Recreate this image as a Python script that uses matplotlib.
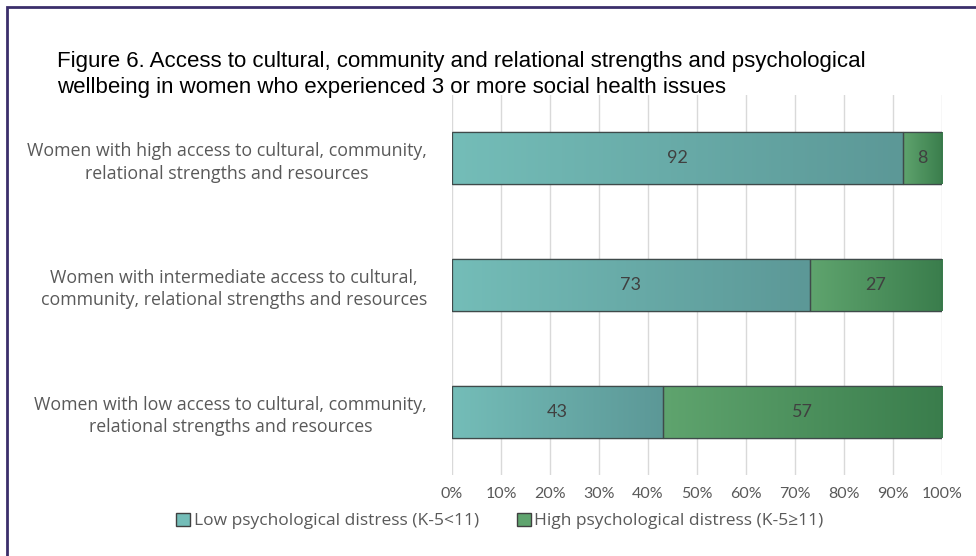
import numpy as np
import matplotlib.pyplot as plt
from matplotlib.patches import Rectangle
from matplotlib.colors import LinearSegmentedColormap

# Daten
groups = [
    "Women with high access to cultural, community,\nrelational strengths and resources",
    "Women with intermediate access to cultural,\ncommunity, relational strengths and resources",
    "Women with low access to cultural, community,\nrelational strengths and resources",
]
low_distress = [92, 73, 43]
high_distress = [8, 27, 57]
series_names = ["Low psychological distress (K-5<11)", "High psychological distress (K-5\u226511)"]
xticks = np.arange(0, 101, 10)

title = ("Figure 6. Access to cultural, community and relational strengths and psychological\n"
         "wellbeing in women who experienced 3 or more social health issues")

teal = ["#74BDB8", "#5C9897"]
green = ["#5FA46E", "#3A7D4C"]

fig = plt.figure(figsize=(9.76, 5.56), dpi=100)
ax = fig.add_axes([0.4631, 0.1457, 0.5020, 0.6835])

y = np.arange(len(groups))
bars_low = ax.barh(y, low_distress, height=0.41, color=teal[0], edgecolor="#3F4A4A", linewidth=0.9, zorder=3)
bars_high = ax.barh(y, high_distress, left=low_distress, height=0.41, color=green[0],
                    edgecolor="#3F4A4A", linewidth=0.9, zorder=3)

# Verlauf in jedem Balken
grad = np.linspace(0, 1, 256).reshape(1, -1)
for bars, cols in [(bars_low, teal), (bars_high, green)]:
    cmap = LinearSegmentedColormap.from_list("g", cols)
    for p in bars:
        x0, y0 = p.get_x(), p.get_y()
        w, h = p.get_width(), p.get_height()
        im = ax.imshow(grad, cmap=cmap, aspect="auto", extent=[x0, x0 + w, y0 + h, y0],
                       zorder=3.5, interpolation="bilinear")
        im.set_clip_path(p)
        edge = Rectangle((x0, y0), w, h, fill=False, edgecolor="#3F4A4A", linewidth=0.9, zorder=4)
        ax.add_patch(edge)

# Werte in die Balken schreiben
for i in range(len(groups)):
    ax.text(low_distress[i] / 2, y[i], str(low_distress[i]), ha="center", va="center",
            fontsize=13, color="#404040", family="Lato", zorder=5)
    ax.text(low_distress[i] + high_distress[i] / 2, y[i], str(high_distress[i]), ha="center",
            va="center", fontsize=13, color="#404040", family="Lato", zorder=5)

ax.set_xlim(0, 100)
ax.set_ylim(2.5, -0.5)
ax.set_xticks(xticks)
ax.set_xticklabels([f"{t}%" for t in xticks], fontsize=11.5, color="#595959", family="Lato")
ax.set_yticks(y)
ax.set_yticklabels(groups, fontsize=12.8, color="#595959", family="Open Sans",
                   multialignment="center", linespacing=1.3)
ax.tick_params(axis="both", length=0)
ax.tick_params(axis="x", pad=9)
ax.tick_params(axis="y", pad=18)
ax.grid(axis="x", color="#D9D9D9", linewidth=1, zorder=0)
for s in ax.spines.values():
    s.set_visible(False)

fig.text(57 / 976, 1 - 51 / 556, title, fontsize=16, family="Liberation Sans", color="black",
         va="top", ha="left", linespacing=1.32)

handles = [Rectangle((0, 0), 1, 1, facecolor=teal[0], edgecolor="#404040"),
           Rectangle((0, 0), 1, 1, facecolor=green[0], edgecolor="#404040")]
fig.legend(handles, series_names, loc="center", bbox_to_anchor=(500 / 976, 1 - 521 / 556),
           ncol=2, frameon=False, prop={"family": "Open Sans", "size": 12.5},
           labelcolor="#595959", handlelength=0.8, handleheight=0.8, handletextpad=0.2,
           columnspacing=2.2)

# Rahmen
fig.patches.append(Rectangle((7 / 976, -0.2), 1.5, 1.2 - 7 / 556, transform=fig.transFigure,
                             fill=False, edgecolor="#3B2F6B", linewidth=2))

fig.savefig("out.png", dpi=100)
